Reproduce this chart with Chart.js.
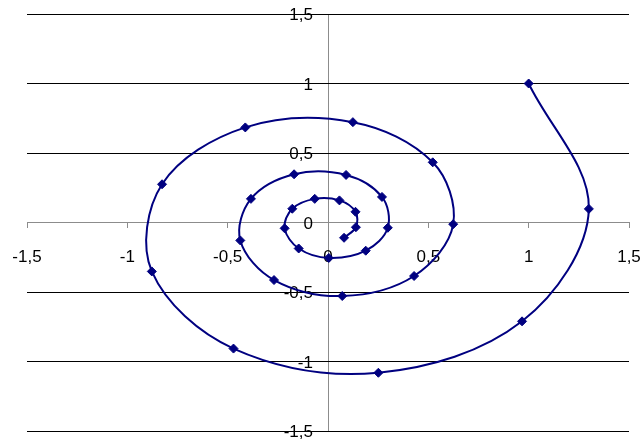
<!DOCTYPE html>
<html>
<head>
<meta charset="utf-8">
<script src="https://cdn.jsdelivr.net/npm/chart.js@4"></script>
<style>
    body { margin: 0; background: #fff; }
    canvas { display: block; }
</style>
</head>
<body>
<canvas id="mainChart" width="642" height="443"></canvas>
<script>
// Spiral points (outer end first)
const xValues = [1.0, 1.3, 0.967, 0.251, -0.471, -0.878, -0.827, -0.412, 0.124, 0.522,
    0.624, 0.429, 0.071, -0.269, -0.437, -0.384, -0.169, 0.090, 0.269, 0.298,
    0.188, 0.004, -0.146, -0.216, -0.178, -0.066, 0.057, 0.137, 0.139, 0.080];
const yValues = [1.0, 0.098, -0.711, -1.081, -0.907, -0.352, 0.275, 0.684, 0.722, 0.433,
    -0.012, -0.385, -0.529, -0.414, -0.129, 0.170, 0.347, 0.342, 0.184, -0.038,
    -0.203, -0.255, -0.187, -0.042, 0.099, 0.170, 0.159, 0.077, -0.034, -0.110];
const tickLabels = [-1.5, -1, -0.5, 0, 0.5, 1, 1.5];

const points = xValues.map((x, i) => ({ x: x, y: yValues[i] }));
const FONT = { family: '"Liberation Sans", Arial, sans-serif', size: 17 };

// comma decimal, like the original
function fmt(v) {
    return String(v).replace(".", ",");
}

const ctx = document.getElementById("mainChart").getContext("2d");
new Chart(ctx, {
    type: "scatter",
    data: {
        datasets: [{
            data: points,
            showLine: true,
            tension: 0.35,
            borderColor: "#000080",
            borderWidth: 2,
            backgroundColor: "#000080",
            pointStyle: "rectRot",
            pointRadius: 4.5,
            pointBorderWidth: 1,
            pointBorderColor: "#000080",
            pointBackgroundColor: "#000080"
        }]
    },
    options: {
        responsive: false,
        animation: false,
        devicePixelRatio: 1,
        layout: { padding: { left: 27, right: 13, top: 14, bottom: 12 } },
        plugins: {
            legend: { display: false },
            tooltip: { enabled: false }
        },
        scales: {
            x: {
                type: "linear",
                min: -1.5,
                max: 1.5,
                position: { y: 0 },
                afterBuildTicks: (axis) => { axis.ticks = tickLabels.map(v => ({ value: v })); },
                // edge labels may hang over, as in the original
                afterFit: (axis) => { axis.paddingLeft = 0; axis.paddingRight = 0; },
                ticks: {
                    callback: (v) => fmt(v),
                    color: "#000",
                    font: FONT,
                    padding: 20,
                    maxRotation: 0,
                    autoSkip: false
                },
                grid: {
                    drawOnChartArea: true,
                    // only the zero line, which is the vertical axis
                    color: (c) => c.tick && c.tick.value === 0 ? "#8c8c8c" : "rgba(0,0,0,0)",
                    tickColor: "#8c8c8c",
                    tickLength: 5,
                    lineWidth: 1
                },
                border: { color: "#8c8c8c", width: 1 }
            },
            y: {
                type: "linear",
                min: -1.5,
                max: 1.5,
                position: { x: -0.075 },
                afterBuildTicks: (axis) => { axis.ticks = tickLabels.map(v => ({ value: v })); },
                afterFit: (axis) => { axis.paddingTop = 0; axis.paddingBottom = 0; },
                ticks: {
                    callback: (v) => fmt(v),
                    color: "#000",
                    font: FONT,
                    padding: 0,
                    labelOffset: 1.5,
                    autoSkip: false
                },
                grid: {
                    color: (c) => c.tick && c.tick.value === 0 ? "rgba(0,0,0,0)" : "#000",
                    drawTicks: false,
                    lineWidth: 1
                },
                border: { display: false }
            }
        }
    }
});
</script>
</body>
</html>
